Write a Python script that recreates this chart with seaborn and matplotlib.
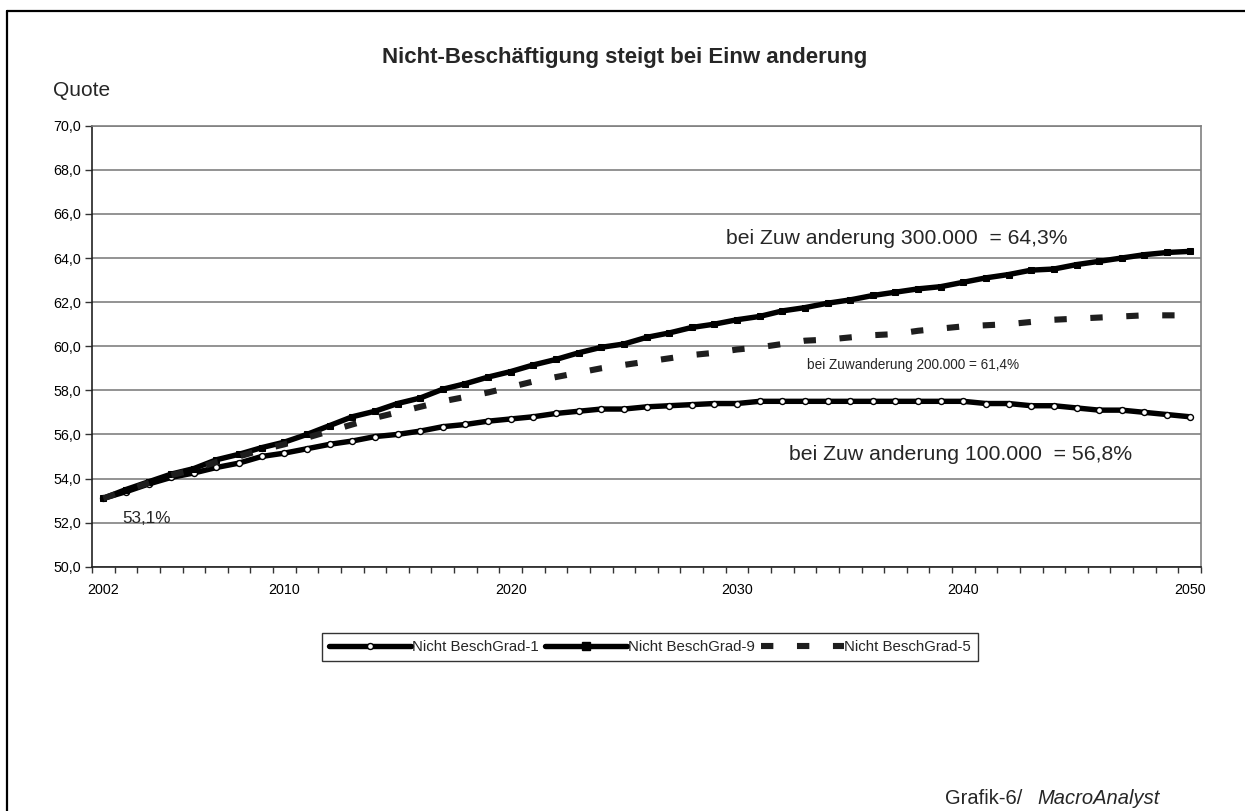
import matplotlib
matplotlib.use("Agg")
import matplotlib.pyplot as plt
from matplotlib.lines import Line2D
from matplotlib.ticker import FixedLocator, NullFormatter
import numpy as np
import pandas as pd
import seaborn as sns

# ---- data -------------------------------------------------------------
years = list(range(2002, 2051))

grad1 = [53.1, 53.4, 53.75, 54.05, 54.25, 54.5, 54.7, 55.0, 55.15, 55.35,
         55.55, 55.7, 55.9, 56.0, 56.15, 56.35, 56.45, 56.6, 56.7, 56.8,
         56.95, 57.05, 57.15, 57.15, 57.25, 57.3, 57.35, 57.4, 57.4, 57.5,
         57.5, 57.5, 57.5, 57.5, 57.5, 57.5, 57.5, 57.5, 57.5, 57.4,
         57.4, 57.3, 57.3, 57.2, 57.1, 57.1, 57.0, 56.9, 56.8]

grad9 = [53.1, 53.5, 53.85, 54.2, 54.45, 54.85, 55.1, 55.4, 55.65, 56.0,
         56.4, 56.8, 57.05, 57.4, 57.65, 58.05, 58.3, 58.6, 58.85, 59.15,
         59.4, 59.7, 59.95, 60.1, 60.4, 60.6, 60.85, 61.0, 61.2, 61.35,
         61.6, 61.75, 61.95, 62.1, 62.3, 62.45, 62.6, 62.7, 62.9, 63.1,
         63.25, 63.45, 63.5, 63.7, 63.85, 64.0, 64.15, 64.25, 64.3]

grad5 = [53.1, 53.45, 53.8, 54.15, 54.4, 54.75, 55.0, 55.3, 55.55, 55.85,
         56.15, 56.45, 56.75, 57.0, 57.25, 57.5, 57.7, 57.9, 58.15, 58.4,
         58.6, 58.8, 59.0, 59.15, 59.3, 59.45, 59.6, 59.7, 59.85, 59.95,
         60.1, 60.25, 60.3, 60.4, 60.5, 60.55, 60.7, 60.8, 60.9, 60.95,
         61.0, 61.1, 61.2, 61.25, 61.3, 61.35, 61.4, 61.4, 61.4]

series_names = ["Nicht BeschGrad-1", "Nicht BeschGrad-9", "Nicht BeschGrad-5"]
x_labels = [2002, 2010, 2020, 2030, 2040, 2050]
y_ticks = list(range(50, 71, 2))

title = "Nicht-Beschäftigung steigt bei Einw anderung"
y_title = "Quote"
note_300 = "bei Zuw anderung 300.000  = 64,3%"
note_200 = "bei Zuwanderung 200.000 = 61,4%"
note_100 = "bei Zuw anderung 100.000  = 56,8%"
note_start = "53,1%"
source_a = "Grafik-6/"
source_b = "MacroAnalyst"

# ---- style ------------------------------------------------------------
sns.set_style("white")
plt.rcParams["font.family"] = ["Liberation Sans", "DejaVu Sans"]
plt.rcParams["lines.scale_dashes"] = False

W, H = 1245, 811
fig = plt.figure(figsize=(W / 100, H / 100), dpi=100)
fig.patch.set_facecolor("white")

left, right, top, bottom = 92, 1201, 125.7, 566.7
ax = fig.add_axes([left / W, 1 - bottom / H, (right - left) / W, (bottom - top) / H])

df = pd.DataFrame({"Jahr": years, series_names[0]: grad1,
                   series_names[1]: grad9, series_names[2]: grad5})

DASH = (8.9, 17.0)

# lower scenario: thick black line with hollow circles
sns.lineplot(data=df, x="Jahr", y=series_names[0], ax=ax, color="black",
             linewidth=3.9, marker="o", markersize=4.3,
             markerfacecolor="white", markeredgecolor="black",
             markeredgewidth=1.0, zorder=3)
# upper scenario: thick black line with small squares
sns.lineplot(data=df, x="Jahr", y=series_names[1], ax=ax, color="black",
             linewidth=3.9, marker="s", markersize=5.0,
             markerfacecolor="black", markeredgecolor="black", zorder=4)
# middle scenario: heavy dashed line
sns.lineplot(data=df, x="Jahr", y=series_names[2], ax=ax, color="#1e1e1e",
             linewidth=4.4, zorder=5)
ax.lines[-1].set_dashes(DASH)

ax.set_xlim(2001.5, 2050.5)
ax.set_ylim(50, 70)
ax.set_xlabel("")
ax.set_ylabel("")

# y axis
ax.set_yticks(y_ticks)
ax.set_yticklabels([f"{v:.1f}".replace(".", ",") for v in y_ticks], fontsize=10.3)
ax.yaxis.grid(True, color="#808080", linewidth=1.2)
ax.xaxis.grid(False)
ax.tick_params(axis="y", length=5, width=1, color="#333333", pad=3,
               labelcolor="black", left=True)

# x axis: labels at category centres, tick marks between categories
ax.set_xticks(x_labels)
ax.set_xticklabels([str(v) for v in x_labels], fontsize=10.3)
ax.tick_params(axis="x", which="major", length=0, pad=12, labelcolor="black")
ax.xaxis.set_minor_locator(FixedLocator(np.arange(2001.5, 2051, 1.0)))
ax.xaxis.set_minor_formatter(NullFormatter())
ax.tick_params(axis="x", which="minor", length=4, width=1, color="#333333",
               bottom=True)

for side in ("left", "bottom"):
    ax.spines[side].set_color("#222222")
    ax.spines[side].set_linewidth(1.2)
for side in ("top", "right"):
    ax.spines[side].set_color("#808080")
    ax.spines[side].set_linewidth(1.2)

# annotations
ax.text(2029.5, 64.9, note_300, fontsize=15.2, ha="left", va="center")
ax.text(2033.1, 59.15, note_200, fontsize=9.8, ha="left", va="center")
ax.text(2032.3, 55.08, note_100, fontsize=15.3, ha="left", va="center")
ax.text(2002.85, 52.2, note_start, fontsize=12.3, ha="left", va="center")

# titles
fig.text(625 / W, 1 - 58 / H, title, fontsize=16, fontweight="bold",
         ha="center", va="center")
fig.text(53 / W, 1 - 91 / H, y_title, fontsize=15, ha="left", va="center")
fig.text(1022 / W, 1 - 799 / H, source_a, fontsize=14.5, ha="right", va="center")
fig.text(1037 / W, 1 - 799 / H, source_b, fontsize=14.5, style="italic",
         ha="left", va="center")

# legend
handles = [
    Line2D([0, 0.5, 1], [0, 0, 0], color="black", linewidth=3.9, marker="o",
           markersize=4.3, markerfacecolor="white", markeredgecolor="black",
           markevery=[1]),
    Line2D([0, 0.5, 1], [0, 0, 0], color="black", linewidth=3.9, marker="s",
           markersize=6, markerfacecolor="black", markevery=[1]),
    Line2D([], [], color="#1e1e1e", linewidth=4.4, dashes=DASH),
]
leg = fig.legend(handles, series_names, loc="center",
                 bbox_to_anchor=(650 / W, 1 - 647 / H), ncol=3, fontsize=10.8,
                 frameon=True, fancybox=False, handlelength=5.5,
                 handletextpad=0.05, columnspacing=0.4, borderpad=0.45,
                 borderaxespad=0)
leg.get_frame().set_edgecolor("black")
leg.get_frame().set_linewidth(1.0)

# outer chart frame (top and left edges fall inside the canvas)
fig.add_artist(Line2D([7 / W, 1.0], [1 - 11 / H, 1 - 11 / H],
                      transform=fig.transFigure, color="black", linewidth=1.6))
fig.add_artist(Line2D([7 / W, 7 / W], [0.0, 1 - 11 / H],
                      transform=fig.transFigure, color="black", linewidth=1.6))

fig.savefig("out.png", dpi=100, facecolor="white")
